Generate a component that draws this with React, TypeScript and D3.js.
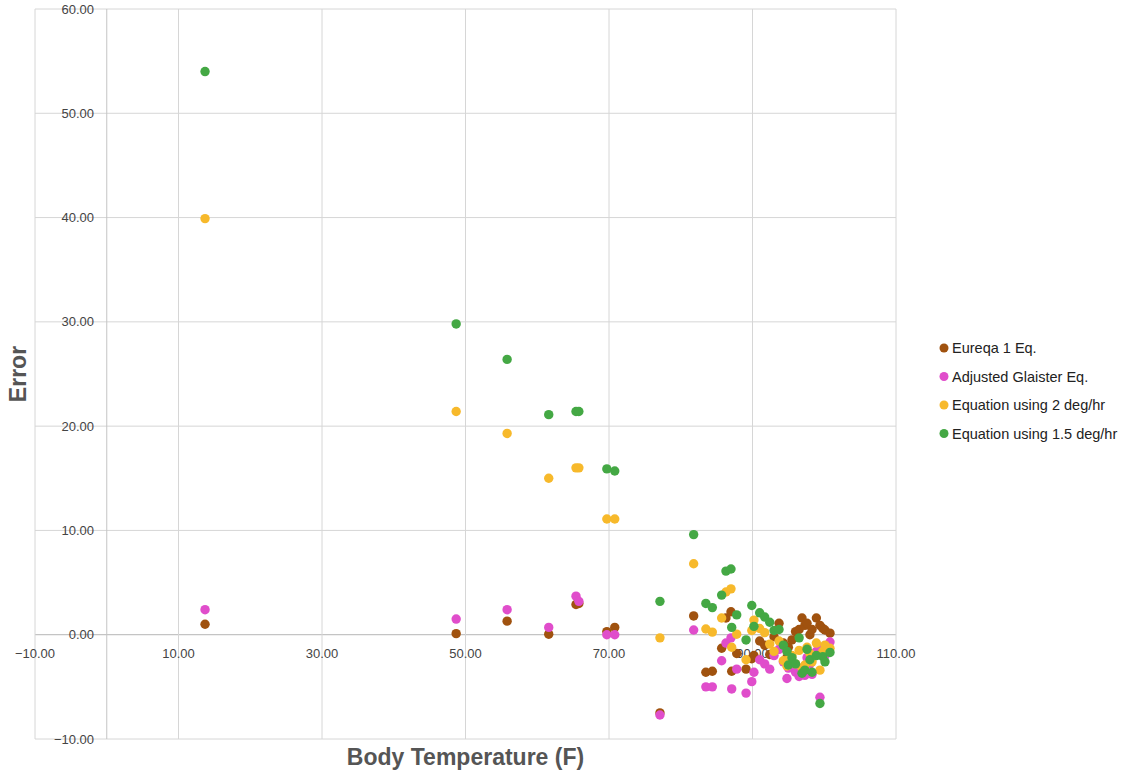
import React from "react";
import * as d3 from "d3";

const temps = [13.7, 48.7, 55.8, 61.6, 65.4, 65.8, 69.7, 70.8, 77.1, 81.8,
  83.5, 84.4, 85.7, 86.3, 87.0, 87.1, 87.8, 89.1, 89.9, 90.2, 91.0, 91.7, 92.4, 93.0,
  93.7, 94.3, 94.8, 95.0, 95.5, 96.0, 96.5, 96.9, 97.3, 97.6, 98.0, 98.3, 98.9, 99.4, 99.8, 100.1, 100.8];

const eureqa = [1.0, 0.1, 1.3, 0.05, 2.9, 3.0, 0.3, 0.7, -7.5, 1.8,
  -3.6, -3.5, -1.3, 1.6, 2.2, -3.5, -1.8, -3.3, -2.3, -2.0, -0.6, -1.0, -1.9, -0.2,
  1.1, -0.8, -2.2, -1.2, -0.5, 0.3, 0.5, 1.6, 0.9, 1.1, 0.0, 0.5, 1.6, 0.9, 0.6, 0.45, 0.15];

const glaister = [2.4, 1.5, 2.4, 0.7, 3.7, 3.2, 0.0, 0.0, -7.7, 0.45,
  -5.0, -5.0, -2.5, -0.8, -0.3, -5.2, -3.3, -5.6, -4.5, -3.6, -2.4, -2.8, -3.3, -2.0,
  -1.4, -2.6, -4.2, -3.2, -3.0, -3.6, -4.0, -3.4, -3.9, -2.2, -2.8, -3.8, -1.6, -6.0, -1.2, -2.0, -0.7];

const eq2deg = [39.9, 21.4, 19.3, 15.0, 16.0, 16.0, 11.1, 11.1, -0.3, 6.8,
  0.55, 0.25, 1.6, 4.1, 4.4, -1.2, 0.05, -2.4, 0.4, 1.4, 0.6, 0.2, -0.9, -1.6,
  -0.6, -2.5, -3.0, -2.4, -2.0, -2.8, -1.5, -3.2, -2.9, -1.2, -1.8, -2.6, -0.8, -3.4, -1.6, -1.0, -1.3];

const eq15deg = [54.0, 29.8, 26.4, 21.1, 21.4, 21.4, 15.9, 15.7, 3.2, 9.6,
  3.0, 2.6, 3.8, 6.1, 6.3, 0.7, 1.9, -0.5, 2.8, 0.8, 2.1, 1.7, 1.2, 0.4,
  0.5, -1.0, -1.6, -2.9, -2.2, -2.8, -0.3, -3.7, -3.4, -1.4, -2.4, -3.6, -2.0, -6.6, -2.1, -2.6, -1.7];

const seriesNames = ["Eureqa 1 Eq.", "Adjusted Glaister Eq.", "Equation using 2 deg/hr", "Equation using 1.5 deg/hr"];
const seriesColors = ["#a0520f", "#e04dcb", "#f7b92b", "#44a844"];
const seriesValues = [eureqa, glaister, eq2deg, eq15deg];

const xTicks = [-10, 10, 30, 50, 70, 90, 110];
const yTicks = [-10, 0, 10, 20, 30, 40, 50, 60];

export default function App() {
  const W = 1127, H = 771;
  const x = d3.scaleLinear().domain([-10, 110]).range([35, 896]);
  const y = d3.scaleLinear().domain([-10, 60]).range([739, 9]);
  const fmt = d3.format(".2f");
  const font = "Arial, 'Liberation Sans', sans-serif";

  return (
    <svg width={W} height={H} style={{ position: "absolute", left: 0, top: 0 }} fontFamily={font}>
      <rect x={0} y={0} width={W} height={H} fill="#fff" />
      {yTicks.map((t) => (
        <line key={"gy" + t} x1={x(-10)} x2={x(110)} y1={y(t)} y2={y(t)} stroke={t === 0 ? "#b5b5b5" : "#d6d6d6"} strokeWidth={1} />
      ))}
      {xTicks.map((t) => (
        <line key={"gx" + t} x1={x(t)} x2={x(t)} y1={y(-10)} y2={y(60)} stroke="#d6d6d6" strokeWidth={1} />
      ))}
      <line x1={x(0)} x2={x(0)} y1={y(-10)} y2={y(60)} stroke="#c4c4c4" strokeWidth={1} />
      {yTicks.map((t) => (
        <text key={"ty" + t} x={94} y={y(t)} dy="0.35em" textAnchor="end" fontSize={13} fill="#444">{fmt(t)}</text>
      ))}
      {xTicks.map((t) => (
        <text key={"tx" + t} x={x(t)} y={y(0) + 23} textAnchor="middle" fontSize={13} fill="#444">{fmt(t)}</text>
      ))}
      {seriesValues.map((vals, si) => (
        <g key={"s" + si}>
          {vals.map((v, i) => (
            <circle key={i} cx={x(temps[i])} cy={y(v)} r={4.7} fill={seriesColors[si]} />
          ))}
        </g>
      ))}
      <text x={(x(-10) + x(110)) / 2} y={765} textAnchor="middle" fontSize={23} fontWeight="bold" fill="#555">Body Temperature (F)</text>
      <text transform={`translate(26, ${(y(-10) + y(60)) / 2}) rotate(-90)`} textAnchor="middle" fontSize={23} fontWeight="bold" fill="#555">Error</text>
      {seriesNames.map((n, i) => (
        <g key={"l" + i} transform={`translate(944, ${348 + i * 28.5})`}>
          <circle cx={0} cy={0} r={4.5} fill={seriesColors[i]} />
          <text x={8} y={0} dy="0.35em" fontSize={14.5} fill="#222">{n}</text>
        </g>
      ))}
    </svg>
  );
}
